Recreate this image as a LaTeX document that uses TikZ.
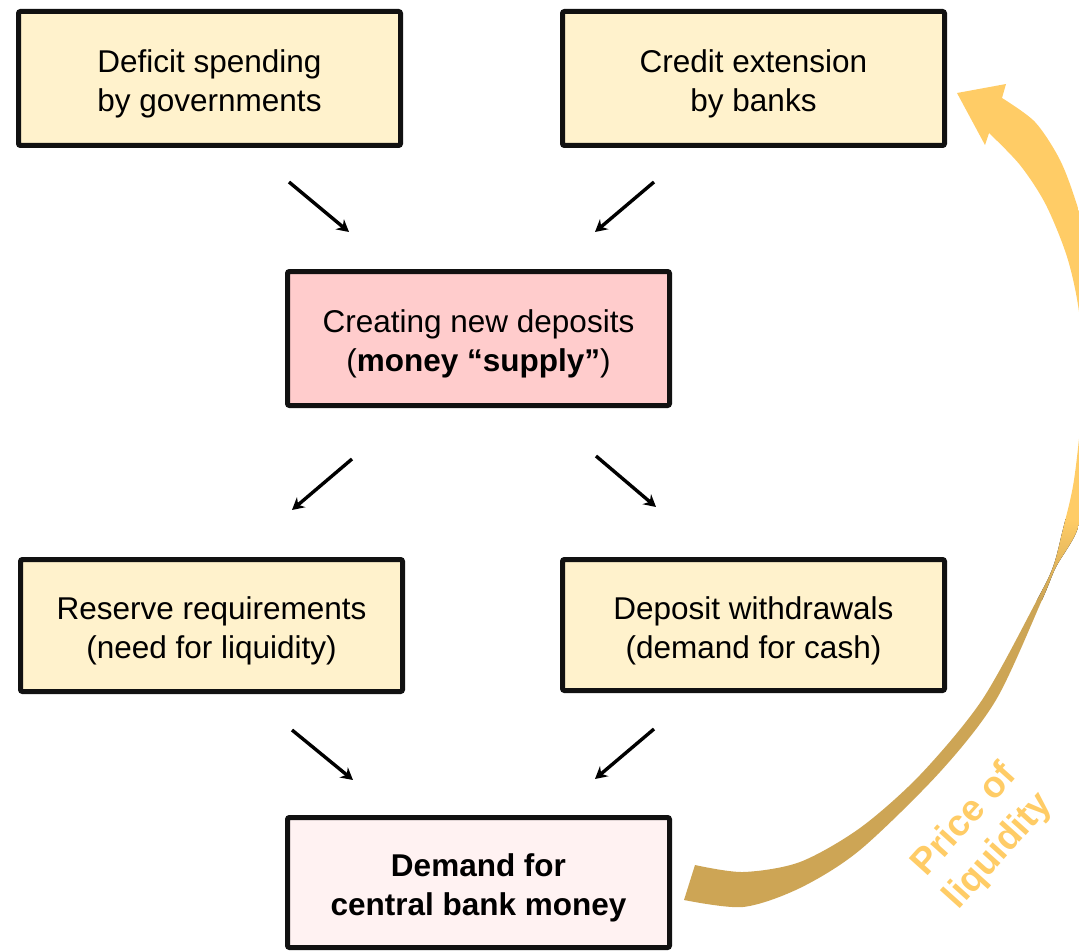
\documentclass[tikz,border=0pt]{standalone}
\usepackage{fontspec}
\setmainfont{Liberation Sans}
\usetikzlibrary{arrows.meta}
\definecolor{boxyellow}{HTML}{FFF2CC}
\definecolor{boxpink}{HTML}{FFCCCC}
\definecolor{boxlight}{HTML}{FFF2F2}
\definecolor{bordc}{HTML}{111111}
\definecolor{liqlight}{HTML}{FFCC66}
\definecolor{liqgold}{HTML}{CDA555}
\newcommand{\boxtxt}[1]{\raisebox{-6pt}[\height][\depth]{\begin{tabular}{@{}c@{}}#1\end{tabular}}}
\begin{document}
\begin{tikzpicture}[x=1pt,y=-1pt,
  flowbox/.style={draw=bordc, line width=5pt, rounded corners=2pt, inner sep=0pt,
    minimum width=382pt, minimum height=134pt, align=center,
    font=\fontsize{31.5}{39}\selectfont},
  smallarrow/.style={line width=3.4pt, -{Stealth[length=12pt,width=13pt]}}]
\useasboundingbox (0,0) rectangle (1079,952);

% boxes
\node[flowbox, fill=boxyellow] (deficit) at (209.5,78.5) {\boxtxt{Deficit spending\\by governments}};
\node[flowbox, fill=boxyellow] (credit) at (753.5,78.5) {\boxtxt{Credit extension\\by banks}};
\node[flowbox, fill=boxpink] (creating) at (478.5,338.5) {\boxtxt{Creating new deposits\\(\textbf{money “supply”})}};
\node[flowbox, fill=boxyellow, minimum height=132pt] (reserve) at (211.5,625.5) {\boxtxt{Reserve requirements\\(need for liquidity)}};
\node[flowbox, fill=boxyellow, minimum height=131pt] (deposit) at (753.5,625) {\boxtxt{Deposit withdrawals\\(demand for cash)}};
\node[flowbox, fill=boxlight, minimum height=130pt, font=\fontsize{31.5}{39}\selectfont\bfseries] (demand) at (478.5,882.5) {\boxtxt{Demand for\\central bank money}};

% small arrows
\coordinate (a1s) at (289,182); \coordinate (a1e) at (349,232);
\coordinate (a2s) at (654,182); \coordinate (a2e) at (595,232);
\coordinate (a3s) at (352,459); \coordinate (a3e) at (292,510);
\coordinate (a4s) at (596,456); \coordinate (a4e) at (656,507);
\coordinate (a5s) at (292,730); \coordinate (a5e) at (353,780);
\coordinate (a6s) at (654,729); \coordinate (a6e) at (595,779);
\draw[smallarrow] (a1s) -- (a1e);
\draw[smallarrow] (a2s) -- (a2e);
\draw[smallarrow] (a3s) -- (a3e);
\draw[smallarrow] (a4s) -- (a4e);
\draw[smallarrow] (a5s) -- (a5e);
\draw[smallarrow] (a6s) -- (a6e);

% big curved arrow (price of liquidity)
\begin{scope}
\clip (0,0) rectangle (1079,952);
\clip plot[smooth] coordinates {(695,865) (743,872) (800,862) (860,828) (920,775) (982,700) (1037,600) (1053,567) (1062,533) (1074,480) (1082,400) (1080,320) (1068,260) (1046,205) (1020,165) (989,133)}
  -- (985,145) -- (957,93) -- (1006,84) --
  plot[smooth] coordinates {(1002,98) (1035,122) (1060,160) (1077,205) (1095,270) (1105,350) (1100,430) (1088,490) (1076,533) (1056,567) (1042,600) (996,700) (940,772) (860,850) (800,888) (743,907) (684,900)} -- cycle;
\fill[liqlight] (600,0) rectangle (1130,520);
\fill[top color=liqlight, bottom color=liqgold] (600,519) rectangle (1130,600);
\fill[liqgold] (600,599) rectangle (1130,960);
\end{scope}

\node[rotate=48, text=liqlight, align=center, font=\fontsize{37}{46}\selectfont\bfseries] (price) at (982,836) {Price of\\liquidity};
\end{tikzpicture}
\end{document}
